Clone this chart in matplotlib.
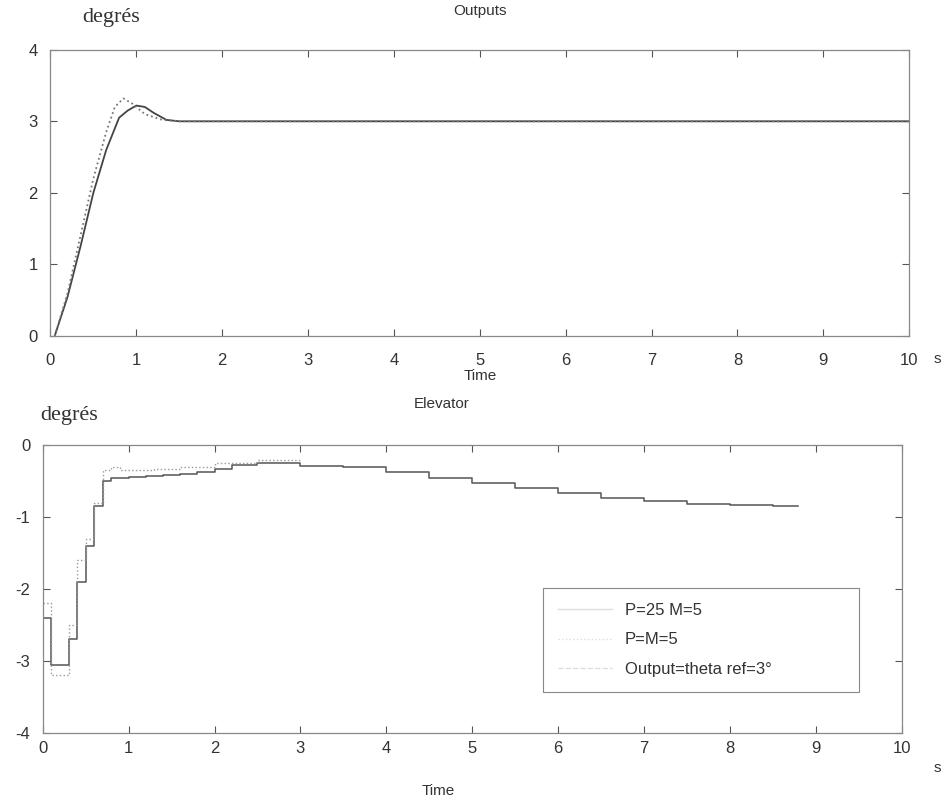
import matplotlib.pyplot as plt
from matplotlib.lines import Line2D

# --- Outputs (theta, degrés) ---
t_out1 = [0.05, 0.2, 0.35, 0.5, 0.65, 0.8, 0.9, 1.0, 1.1, 1.2, 1.35, 1.5, 2.0, 10.0]
theta_p25 = [0.0, 0.55, 1.25, 2.0, 2.6, 3.05, 3.15, 3.22, 3.2, 3.12, 3.02, 3.0, 3.0, 3.0]
t_out2 = [0.05, 0.2, 0.35, 0.5, 0.65, 0.75, 0.85, 0.95, 1.1, 1.3, 1.5, 10.0]
theta_p5 = [0.0, 0.6, 1.4, 2.2, 2.85, 3.2, 3.32, 3.25, 3.1, 3.02, 3.0, 3.0]

# --- Elevator (degrés), sampled signals ---
t_el1 = [0.0, 0.1, 0.2, 0.3, 0.4, 0.5, 0.6, 0.7, 0.8, 0.9, 1.0, 1.2, 1.4, 1.6, 1.8,
         2.0, 2.2, 2.5, 3.0, 3.5, 4.0, 4.5, 5.0, 5.5, 6.0, 6.5, 7.0, 7.5, 8.0, 8.5, 8.8]
elev_p25 = [-2.4, -3.05, -3.05, -2.7, -1.9, -1.4, -0.85, -0.5, -0.45, -0.45, -0.44, -0.43,
            -0.42, -0.4, -0.37, -0.33, -0.28, -0.25, -0.29, -0.31, -0.37, -0.46, -0.52,
            -0.6, -0.66, -0.73, -0.78, -0.82, -0.83, -0.85, -0.85]
t_el2 = [0.0, 0.1, 0.2, 0.3, 0.4, 0.5, 0.6, 0.7, 0.8, 0.9, 1.0, 1.3, 1.6, 2.0, 2.5, 3.0]
elev_p5 = [-2.2, -3.2, -3.2, -2.5, -1.6, -1.3, -0.8, -0.35, -0.3, -0.35, -0.35, -0.33,
           -0.3, -0.25, -0.2, -0.2]

legend_labels = ["P=25 M=5", "P=M=5", "Output=theta ref=3\u00b0"]

plt.rcParams['font.family'] = ['Liberation Sans', 'DejaVu Sans']
plt.rcParams['axes.unicode_minus'] = False
edge = '#555555'
txt = '#333333'

fig = plt.figure(figsize=(9.51, 8.02), dpi=100)
ax1 = fig.add_axes([0.053, 0.581, 0.903, 0.357])
ax2 = fig.add_axes([0.045, 0.086, 0.903, 0.359])

ax1.plot(t_out1, theta_p25, color='#444444', lw=1.3)
ax1.plot(t_out2, theta_p5, color='#777777', lw=1.3, ls=':')
ax1.set_xlim(0, 10)
ax1.set_ylim(0, 4)
ax1.set_yticks([0, 1, 2, 3, 4])

ax2.step(t_el1, elev_p25, where='post', color='#555555', lw=1.1)
ax2.step(t_el2, elev_p5, where='post', color='#999999', lw=1.0, ls=':')
ax2.set_xlim(0, 10)
ax2.set_ylim(-4, 0)
ax2.set_yticks([-4, -3, -2, -1, 0])

for ax in (ax1, ax2):
    ax.set_xticks(range(11))
    ax.tick_params(direction='in', top=True, right=True, length=5, width=0.8,
                   colors=edge, labelcolor=txt, labelsize=12)
    ax.tick_params(axis='y', pad=9)
    for sp in ax.spines.values():
        sp.set_color('#888888')
        sp.set_linewidth(0.9)
ax1.tick_params(axis='x', pad=12)
ax2.tick_params(axis='x', pad=6)

ax1.set_title("Outputs", fontsize=11, color=txt, pad=25)
ax1.set_xlabel("Time", fontsize=11, color=txt, labelpad=1)
fig.text(0.99, 0.548, "s", fontsize=11, color=txt, ha='right')
fig.text(0.086, 0.978, "degrés", fontsize=16, color=txt, va='center', family='Liberation Serif')

ax2.text(0.465, 1.13, "Elevator", transform=ax2.transAxes, fontsize=11, color=txt, ha='center')
ax2.text(0.46, -0.215, "Time", transform=ax2.transAxes, fontsize=11, color=txt, ha='center')
fig.text(0.99, 0.037, "s", fontsize=11, color=txt, ha='right')
fig.text(0.042, 0.482, "degrés", fontsize=16, color=txt, va='center', family='Liberation Serif')

handles = [Line2D([], [], color='#dddddd', lw=1.0),
           Line2D([], [], color='#dddddd', lw=1.0, ls=':'),
           Line2D([], [], color='#dddddd', lw=1.0, ls='--')]
leg = ax2.legend(handles, legend_labels, loc='lower left',
                 bbox_to_anchor=(0.573, 0.115, 0.387, 0.375), mode='expand',
                 fontsize=12, labelspacing=0.85, handlelength=3.2, borderpad=0.9,
                 fancybox=False, framealpha=1)
leg.get_frame().set_edgecolor('#888888')
leg.get_frame().set_linewidth(0.8)
for t in leg.get_texts():
    t.set_color(txt)

fig.savefig("out.png", dpi=100)
